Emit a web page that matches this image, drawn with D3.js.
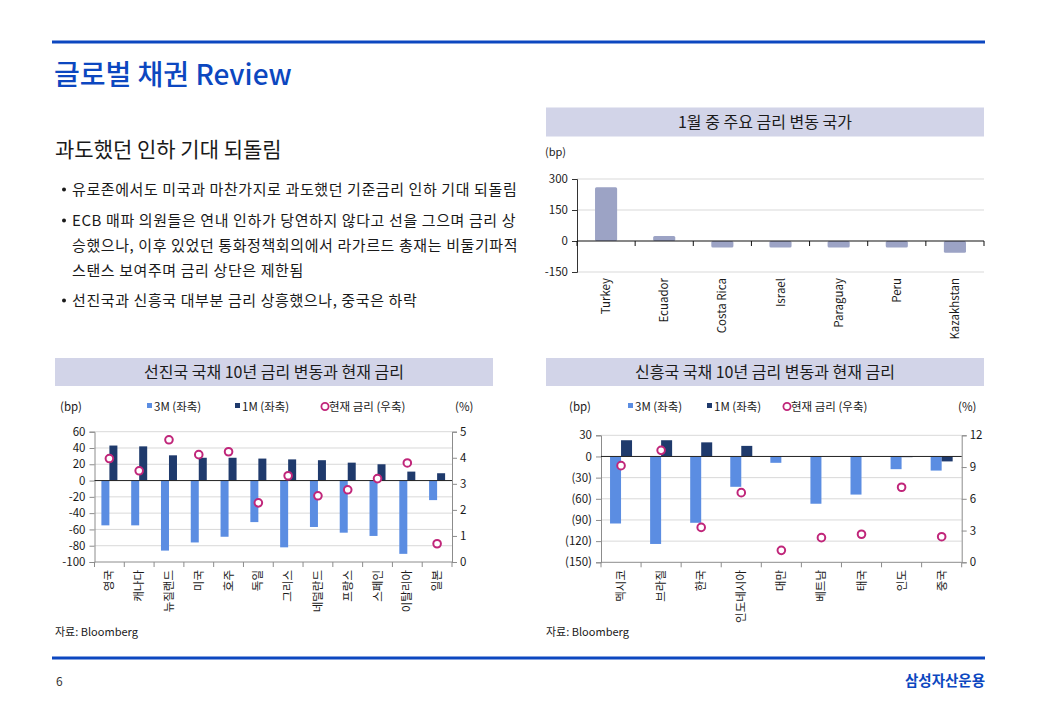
<!DOCTYPE html>
<html>
<head>
<meta charset="utf-8">
<script src="https://cdn.jsdelivr.net/npm/d3@7"></script>
<style>
  body { margin: 0; background: #fff; }
  svg { display: block; font-family: "Noto Sans CJK KR", "Noto Sans", sans-serif; }
</style>
</head>
<body>
<div id="page"></div>
<script>
// ---- data ----
var bulletLines = [
  { text: "유로존에서도 미국과 마찬가지로 과도했던 기준금리 인하 기대 되돌림", dot: true },
  { text: "ECB 매파 의원들은 연내 인하가 당연하지 않다고 선을 그으며 금리 상", dot: true },
  { text: "승했으나, 이후 있었던 통화정책회의에서 라가르드 총재는 비둘기파적", dot: false },
  { text: "스탠스 보여주며 금리 상단은 제한됨", dot: false },
  { text: "선진국과 신흥국 대부분 금리 상흥했으나, 중국은 하락", dot: true }
];

var moverCountries = ["Turkey", "Ecuador", "Costa Rica", "Israel", "Paraguay", "Peru", "Kazakhstan"];
var moverChange = [260, 24, -32, -31, -31, -31, -57];
var moverTicks = [-150, 0, 150, 300];

var dmCountries = ["영국", "캐나다", "뉴질랜드", "미국", "호주", "독일", "그리스", "네덜란드", "프랑스", "스페인", "이탈리아", "일본"];
var dm3M = [-55, -55, -86, -76, -69, -51, -82, -57, -64, -68, -90, -24];
var dm1M = [43, 42, 31, 28, 28, 27, 26, 25, 22, 20, 11, 9];
var dmRate = [3.97, 3.5, 4.69, 4.12, 4.23, 2.27, 3.31, 2.54, 2.77, 3.2, 3.8, 0.7];
var dmLeftTicks = [-100, -80, -60, -40, -20, 0, 20, 40, 60];
var dmRightTicks = [0, 1, 2, 3, 4, 5];

var emCountries = ["멕시코", "브라질", "한국", "인도네시아", "대만", "베트남", "태국", "인도", "중국"];
var em3M = [-95, -124, -94, -43, -9, -67, -54, -18, -20];
var em1M = [23, 23, 20, 15, 0, 0, 0, -1, -7];
var emRate = [9.13, 10.58, 3.3, 6.58, 1.13, 2.33, 2.65, 7.09, 2.42];
var emLeftTicks = [-150, -120, -90, -60, -30, 0, 30];
var emRightTicks = [0, 3, 6, 9, 12];

// ---- style ----
var BLUE = "#0c47c0";
var C3M = "#5b8de2";
var C1M = "#1f3a6c";
var CRATE = "#c0267a";
var CBAR = "#9ca3c5";
var HEAD = "#d2d4e8";
var GRID = "#d9d9d9";
var AXIS = "#8c8c8c";
var TXT = "#1a1a1a";

// plain hyphen for negatives, like the source sheet
var plainNum = function(d) { return String(d); };

var W = 1040, H = 720;
var svg = d3.select("#page").append("svg").attr("width", W).attr("height", H);

// ---- page frame ----
svg.append("rect").attr("x", 52).attr("y", 40.5).attr("width", 933).attr("height", 3).attr("fill", BLUE);
svg.append("rect").attr("x", 52).attr("y", 656.5).attr("width", 933).attr("height", 3).attr("fill", BLUE);
svg.append("text").attr("x", 54).attr("y", 85).attr("font-size", 28).attr("font-weight", 500)
  .attr("fill", BLUE).text("글로벌 채권 Review");
svg.append("text").attr("x", 55).attr("y", 157).attr("font-size", 21).attr("fill", TXT)
  .text("과도했던 인하 기대 되돌림");

var bulletY = [195, 226, 251, 276, 306];
bulletLines.forEach(function(d, i) {
  if (d.dot) {
    svg.append("circle").attr("cx", 64).attr("cy", bulletY[i] - 5.5).attr("r", 2).attr("fill", TXT);
  }
  svg.append("text").attr("x", 72).attr("y", bulletY[i]).attr("font-size", 15)
    .attr("letter-spacing", 0.6).attr("fill", TXT)
    .text(d.text);
});

svg.append("text").attr("x", 56).attr("y", 686).attr("font-size", 12).attr("fill", "#333").text("6");
svg.append("text").attr("x", 985).attr("y", 686).attr("text-anchor", "end").attr("font-size", 14.5)
  .attr("font-weight", 700).attr("fill", BLUE).text("삼성자산운용");

function header(x, y, w, h, title) {
  svg.append("rect").attr("x", x).attr("y", y).attr("width", w).attr("height", h).attr("fill", HEAD);
  svg.append("text").attr("x", x + w / 2).attr("y", y + h / 2 + 5.5).attr("text-anchor", "middle")
    .attr("font-size", 16).attr("fill", TXT).text(title);
}

function smallText(x, y, t, size) {
  return svg.append("text").attr("x", x).attr("y", y).attr("font-size", size || 11).attr("fill", TXT)
    .text(t);
}

function categoryLabels(g, x, cats, top) {
  g.selectAll("text.cat").data(cats).enter().append("text")
    .attr("class", "cat")
    .attr("transform", function(d) {
      return "translate(" + (x(d) + x.bandwidth() / 2 + 4) + "," + top + ") rotate(-90)";
    })
    .attr("text-anchor", "end")
    .attr("font-size", 11.5)
    .attr("fill", TXT)
    .text(function(d) { return d; });
}

function boundaryTicks(g, x, cats, y0, len, color) {
  var bounds = [x.range()[0]].concat(cats.map(function(d) { return x(d) + x.step(); }));
  g.selectAll("line.btick").data(bounds).enter().append("line")
    .attr("class", "btick")
    .attr("x1", function(d) { return d; }).attr("x2", function(d) { return d; })
    .attr("y1", y0).attr("y2", y0 + len)
    .attr("stroke", color).attr("stroke-width", 1);
}

// ---- chart 1: top movers ----
(function() {
  header(546, 107.5, 438, 29, "1월 중 주요 금리 변동 국가");
  smallText(545, 156, "(bp)");
  var g = svg.append("g");
  var x = d3.scaleBand().domain(moverCountries).range([577, 984]).paddingInner(0.62).paddingOuter(0.31);
  var y = d3.scaleLinear().domain([-150, 300]).range([272, 179]);

  g.selectAll("line.grid").data(moverTicks.filter(function(d) { return d !== 0; })).enter().append("line")
    .attr("x1", 577).attr("x2", 984)
    .attr("y1", function(d) { return y(d); }).attr("y2", function(d) { return y(d); })
    .attr("stroke", GRID);

  var ax = g.append("g").attr("transform", "translate(577,0)")
    .call(d3.axisLeft(y).tickValues(moverTicks).tickSize(5).tickFormat(plainNum));
  ax.select(".domain").attr("stroke", "#333");
  ax.selectAll(".tick line").attr("stroke", "#333");
  ax.selectAll("text").attr("font-size", 11.5).attr("fill", TXT).attr("font-family", "Noto Sans CJK KR").attr("dx", -1);

  g.selectAll("rect.bar").data(moverChange).enter().append("rect")
    .attr("x", function(d, i) { return x(moverCountries[i]); })
    .attr("width", x.bandwidth())
    .attr("y", function(d) { return Math.min(y(d), y(0)); })
    .attr("height", function(d) { return Math.abs(y(d) - y(0)); })
    .attr("rx", 1.5)
    .attr("fill", CBAR);

  g.append("line").attr("x1", 577).attr("x2", 984).attr("y1", y(0)).attr("y2", y(0))
    .attr("stroke", "#111").attr("stroke-width", 1.2);
  var xs = d3.scaleBand().domain(moverCountries).range([577, 984]);
  boundaryTicks(g, xs, moverCountries, y(0), 5, "#111");
  categoryLabels(g, xs, moverCountries, 278);
})();

// ---- dual-axis charts ----
function dualChart(o) {
  header(o.boxX, 358, 438, 28, o.title);
  var ly = 411;
  smallText(o.bpX, ly, "(bp)", 11.5);
  svg.append("rect").attr("x", o.leg[0]).attr("y", ly - 8).attr("width", 5).attr("height", 5).attr("fill", C3M);
  smallText(o.leg[0] + 7, ly, "3M (좌축)", 11.5);
  svg.append("rect").attr("x", o.leg[1]).attr("y", ly - 8).attr("width", 5).attr("height", 5).attr("fill", C1M);
  smallText(o.leg[1] + 7, ly, "1M (좌축)", 11.5);
  svg.append("circle").attr("cx", o.leg[2]).attr("cy", ly - 4.5).attr("r", 3.6)
    .attr("fill", "#fff").attr("stroke", CRATE).attr("stroke-width", 1.8);
  smallText(o.leg[2] + 4, ly, "현재 금리 (우축)", 11.5);
  smallText(o.pctX, ly, "(%)", 11.5);

  var g = svg.append("g");
  var x = d3.scaleBand().domain(o.cats).range([o.x0, o.x1]);
  var y = d3.scaleLinear().domain(o.leftDomain).range([o.yBottom, o.yTop]);
  var yr = d3.scaleLinear().domain(o.rightDomain).range([o.yBottom, o.yTop]);

  g.selectAll("line.grid").data(o.leftTicks.filter(function(d) { return d !== 0 && d !== o.leftDomain[0]; }))
    .enter().append("line")
    .attr("x1", o.x0).attr("x2", o.x1)
    .attr("y1", function(d) { return y(d); }).attr("y2", function(d) { return y(d); })
    .attr("stroke", GRID);

  var axl = g.append("g").attr("transform", "translate(" + o.x0 + ",0)")
    .call(d3.axisLeft(y).tickValues(o.leftTicks).tickSize(5).tickFormat(o.leftFormat));
  var axr = g.append("g").attr("transform", "translate(" + o.x1 + ",0)")
    .call(d3.axisRight(yr).tickValues(o.rightTicks).tickSize(5).tickFormat(plainNum));
  [axl, axr].forEach(function(a) {
    a.select(".domain").attr("stroke", AXIS);
    a.selectAll(".tick line").attr("stroke", AXIS);
    a.selectAll("text").attr("font-size", 11.5).attr("fill", TXT).attr("font-family", "Noto Sans CJK KR");
  });
  axl.selectAll("text").attr("dx", -1);

  g.append("line").attr("x1", o.x0).attr("x2", o.x1).attr("y1", o.yBottom).attr("y2", o.yBottom).attr("stroke", AXIS);
  boundaryTicks(g, x, o.cats, o.yBottom, 5, AXIS);

  var bw = o.barW;
  g.selectAll("rect.m3").data(o.v3M).enter().append("rect")
    .attr("x", function(d, i) { return x(o.cats[i]) + x.bandwidth() / 2 - bw; })
    .attr("width", bw)
    .attr("y", function(d) { return Math.min(y(d), y(0)); })
    .attr("height", function(d) { return Math.abs(y(d) - y(0)); })
    .attr("fill", C3M);
  g.selectAll("rect.m1").data(o.v1M).enter().append("rect")
    .attr("x", function(d, i) { return x(o.cats[i]) + x.bandwidth() / 2; })
    .attr("width", bw)
    .attr("y", function(d) { return Math.min(y(d), y(0)); })
    .attr("height", function(d) { return Math.abs(y(d) - y(0)); })
    .attr("fill", C1M);

  g.append("line").attr("x1", o.x0).attr("x2", o.x1).attr("y1", y(0)).attr("y2", y(0))
    .attr("stroke", "#222").attr("stroke-width", 1);

  g.selectAll("circle.rate").data(o.rate).enter().append("circle")
    .attr("cx", function(d, i) { return x(o.cats[i]) + x.bandwidth() / 2; })
    .attr("cy", function(d) { return yr(d); })
    .attr("r", 3.8)
    .attr("fill", "#fff").attr("stroke", CRATE).attr("stroke-width", 2);

  categoryLabels(g, x, o.cats, 570);
  smallText(o.boxX, 636, "자료: Bloomberg");
}

dualChart({
  boxX: 55, title: "선진국 국채 10년 금리 변동과 현재 금리",
  bpX: 60, leg: [147, 235, 325], pctX: 455,
  cats: dmCountries, v3M: dm3M, v1M: dm1M, rate: dmRate,
  x0: 94.5, x1: 452, yTop: 431.7, yBottom: 562,
  leftDomain: [-100, 60], rightDomain: [0, 5],
  leftTicks: dmLeftTicks, rightTicks: dmRightTicks,
  leftFormat: plainNum, barW: 8
});

dualChart({
  boxX: 546, title: "신흥국 국채 10년 금리 변동과 현재 금리",
  bpX: 569, leg: [628, 707, 787], pctX: 958,
  cats: emCountries, v3M: em3M, v1M: em1M, rate: emRate,
  x0: 601, x1: 961.7, yTop: 435.3, yBottom: 562.3,
  leftDomain: [-150, 30], rightDomain: [0, 12],
  leftTicks: emLeftTicks, rightTicks: emRightTicks,
  leftFormat: function(d) { return d < 0 ? "(" + (-d) + ")" : String(d); }, barW: 11
});
</script>
</body>
</html>
